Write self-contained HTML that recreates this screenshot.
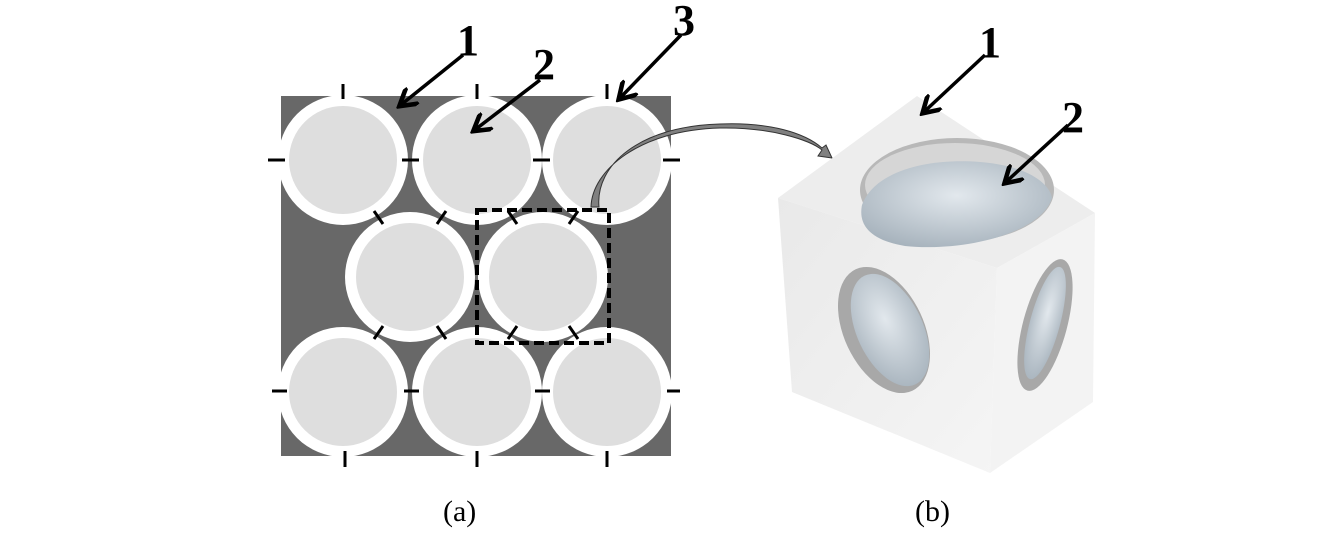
<!DOCTYPE html><html><head><style>body{margin:0;background:#fff}svg{display:block}</style></head><body>
<svg width="1344" height="558" viewBox="0 0 1344 558" xmlns="http://www.w3.org/2000/svg">
<defs>
<marker id="ah" markerWidth="6" markerHeight="6" refX="4" refY="3" orient="auto"><path d="M0,0 L5,3 L0,6" fill="none" stroke="#000" stroke-width="1.3"/></marker>
<radialGradient id="sp" cx="0.5" cy="0.4" r="0.65"><stop offset="0" stop-color="#e2e8ed"/><stop offset="1" stop-color="#a6b2bc"/></radialGradient>
<linearGradient id="lf" x1="0" y1="0" x2="1" y2="1"><stop offset="0" stop-color="#e9e9e9"/><stop offset="1" stop-color="#f5f5f5"/></linearGradient>
</defs>
<rect x="281" y="96" width="390" height="360" fill="#686868"/>
<g fill="#fff">
<circle cx="343" cy="160" r="65"/><circle cx="477" cy="160" r="65"/><circle cx="607" cy="160" r="65"/>
<circle cx="410" cy="277" r="65"/><circle cx="543" cy="277" r="65"/>
<circle cx="343" cy="392" r="65"/><circle cx="477" cy="392" r="65"/><circle cx="607" cy="392" r="65"/>
</g>
<g fill="#dedede">
<circle cx="343" cy="160" r="54"/><circle cx="477" cy="160" r="54"/><circle cx="607" cy="160" r="54"/>
<circle cx="410" cy="277" r="54"/><circle cx="543" cy="277" r="54"/>
<circle cx="343" cy="392" r="54"/><circle cx="477" cy="392" r="54"/><circle cx="607" cy="392" r="54"/>
</g>
<rect x="281" y="456" width="400" height="20" fill="#fff"/>
<g stroke="#000" stroke-width="3">
<line x1="343" y1="84" x2="343" y2="99"/><line x1="477" y1="84" x2="477" y2="99"/><line x1="607" y1="84" x2="607" y2="99"/>
<line x1="345" y1="451" x2="345" y2="467"/><line x1="477" y1="451" x2="477" y2="467"/><line x1="607" y1="451" x2="607" y2="467"/>
<line x1="268" y1="160" x2="285" y2="160"/><line x1="402" y1="160" x2="419" y2="160"/><line x1="533" y1="160" x2="550" y2="160"/><line x1="663" y1="160" x2="680" y2="160"/>
<line x1="272" y1="391" x2="287" y2="391"/><line x1="404" y1="391" x2="419" y2="391"/><line x1="535" y1="391" x2="550" y2="391"/><line x1="667" y1="391" x2="680" y2="391"/>
<line x1="374" y1="211" x2="383" y2="224"/><line x1="446" y1="211" x2="437" y2="224"/><line x1="508" y1="211" x2="517" y2="224"/><line x1="578" y1="211" x2="569" y2="224"/>
<line x1="374" y1="339" x2="383" y2="326"/><line x1="446" y1="339" x2="437" y2="326"/><line x1="508" y1="339" x2="517" y2="326"/><line x1="578" y1="339" x2="569" y2="326"/>
</g>
<rect x="477" y="210" width="132" height="133" fill="none" stroke="#000" stroke-width="4" stroke-dasharray="10,5"/>
<path d="M591,207 C592,170 640,130 720,128 C770,127 810,140 822,150 L818,156 L832,158 L826,145 L822,148 C805,133 770,122 720,124 C640,126 595,165 599,207 Z" fill="#808080" stroke="#333" stroke-width="1"/>
<!-- cube -->
<polygon points="778,198 917,96 1095,213 997,268" fill="#ededed"/>
<polygon points="778,198 997,268 990,473 792,392" fill="url(#lf)"/>
<polygon points="997,268 1095,213 1093,402 990,473" fill="#f3f3f3"/>
<ellipse cx="957" cy="190" rx="97" ry="52" fill="#b8b8b8"/>
<ellipse cx="955" cy="185" rx="90" ry="42" fill="#d6d6d6"/>
<path d="M862,205 C875,170 930,158 980,162 C1030,166 1050,185 1052,198 C1040,235 960,252 905,246 C870,240 858,225 862,205Z" fill="url(#sp)"/>
<ellipse cx="884" cy="330" rx="40" ry="67" transform="rotate(-25 884 330)" fill="#a8a8a8"/>
<ellipse cx="890" cy="330" rx="33" ry="60" transform="rotate(-25 890 330)" fill="url(#sp)"/>
<ellipse cx="1045" cy="325" rx="22" ry="68" transform="rotate(15 1045 325)" fill="#a8a8a8"/>
<ellipse cx="1045" cy="323" rx="15" ry="58" transform="rotate(15 1045 323)" fill="url(#sp)"/>
<g stroke="#000" stroke-width="3.5" marker-end="url(#ah)">
<line x1="463" y1="55" x2="402" y2="104"/>
<line x1="540" y1="80" x2="476" y2="129"/>
<line x1="681" y1="35" x2="621" y2="97"/>
<line x1="985" y1="55" x2="925" y2="111"/>
<line x1="1068" y1="125" x2="1007" y2="181"/>
</g>
<g font-family="'Liberation Serif',serif" font-weight="bold" font-size="44">
<text x="457" y="55">1</text><text x="533" y="79">2</text><text x="673" y="35">3</text>
<text x="979" y="57">1</text><text x="1062" y="132">2</text>
</g>
<g font-family="'Liberation Serif',serif" font-size="30">
<text x="443" y="521">(a)</text><text x="915" y="521">(b)</text>
</g>
</svg></body></html>
